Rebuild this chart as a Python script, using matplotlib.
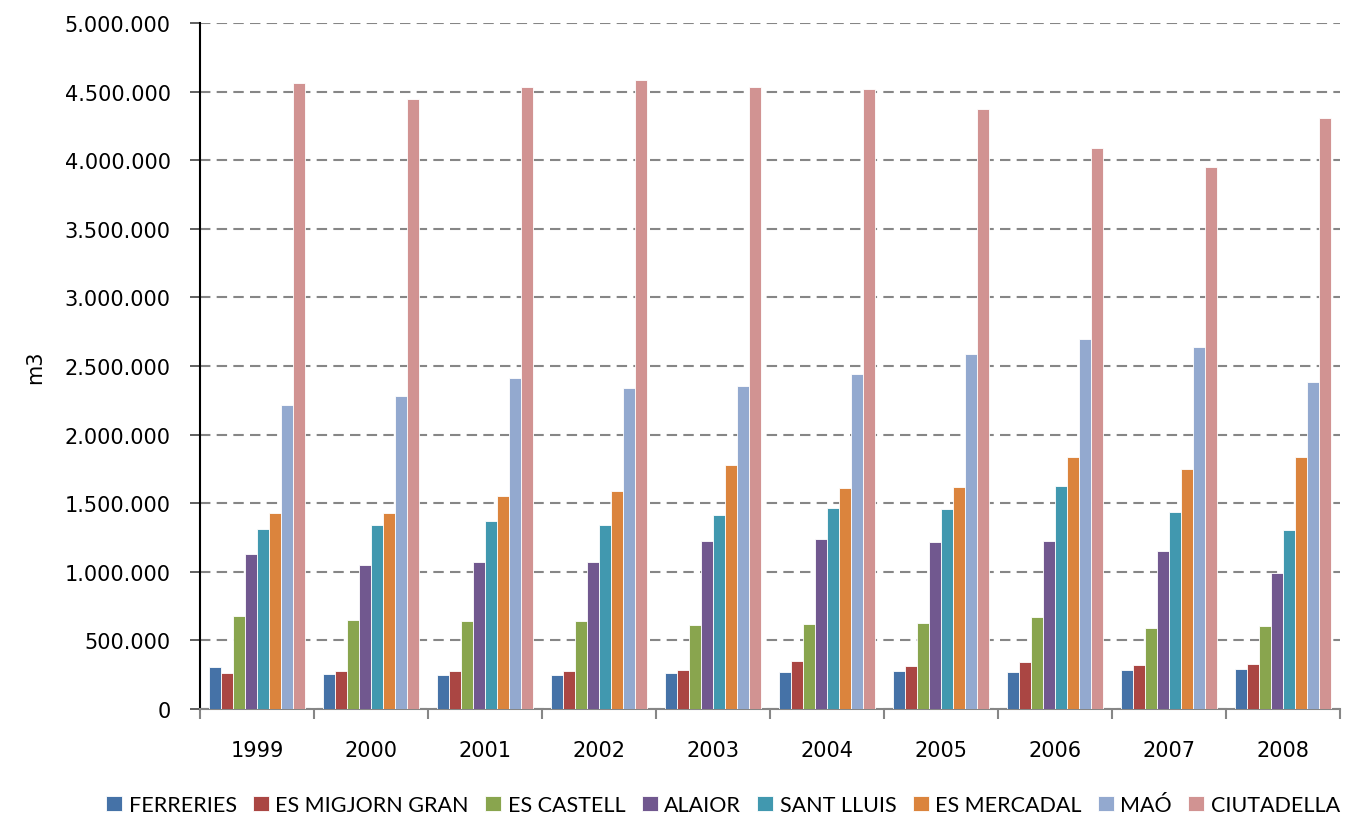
import matplotlib
matplotlib.use("Agg")
import matplotlib.pyplot as plt
import numpy as np
from matplotlib.ticker import FuncFormatter, MultipleLocator

plt.rcParams["font.family"] = ["DejaVu Sans"]

years = ["1999", "2000", "2001", "2002", "2003", "2004", "2005", "2006", "2007", "2008"]
series_names = ["FERRERIES", "ES MIGJORN GRAN", "ES CASTELL", "ALAIOR",
                "SANT LLUIS", "ES MERCADAL", "MAÓ", "CIUTADELLA"]

ferreries  = [306000, 255000, 248000, 248000, 260000, 270000, 275000, 270000, 282000, 289000]
migjorn    = [260000, 275000, 275000, 275000, 282000, 352000, 316000, 340000, 321000, 326000]
castell    = [676000, 649000, 639000, 639000, 610000, 620000, 629000, 670000, 588000, 605000]
alaior     = [1130000, 1050000, 1071000, 1071000, 1227000, 1239000, 1215000, 1222000, 1152000, 989000]
sant_lluis = [1312000, 1343000, 1370000, 1339000, 1416000, 1467000, 1458000, 1628000, 1434000, 1302000]
mercadal   = [1431000, 1431000, 1550000, 1589000, 1776000, 1609000, 1616000, 1834000, 1747000, 1837000]
mao        = [2218000, 2284000, 2415000, 2340000, 2354000, 2444000, 2585000, 2695000, 2638000, 2383000]
ciutadella = [4563000, 4446000, 4534000, 4585000, 4534000, 4519000, 4375000, 4087000, 3950000, 4305000]

series = [ferreries, migjorn, castell, alaior, sant_lluis, mercadal, mao, ciutadella]
colors = ["#4572A7", "#AA4643", "#89A54E", "#71588F", "#4198AF", "#DB843D", "#93A9CF", "#D19392"]

fig = plt.figure(figsize=(13.53, 8.2), dpi=100)
ax = fig.add_axes([200/1353, 110/820, 1140/1353, 686/820])

n = len(series)
group_w = 0.85
bw = group_w / n
x = np.arange(len(years))
for i, (vals, c, name) in enumerate(zip(series, colors, series_names)):
    ax.bar(x - group_w/2 + bw*(i+0.5), vals, width=bw, color=c, edgecolor="white",
           linewidth=0.6, label=name, zorder=3)

ax.set_xlim(-0.5, len(years)-0.5)
ax.set_ylim(0, 5000000)
ax.yaxis.set_major_locator(MultipleLocator(500000))
ax.yaxis.set_major_formatter(FuncFormatter(lambda v, p: "0" if v == 0 else f"{int(v):,}".replace(",", ".")))

ax.grid(axis="y", color="#868686", linestyle=(0, (5, 3)), linewidth=1.5, zorder=0)
ax.set_axisbelow(True)

for s in ["top", "right"]:
    ax.spines[s].set_visible(False)
ax.spines["left"].set_color("black")
ax.spines["left"].set_linewidth(1.5)
ax.spines["bottom"].set_color("#868686")
ax.spines["bottom"].set_linewidth(1.5)

ax.set_xticks(x)
ax.set_xticklabels(years)
ax.set_xticks(np.arange(-0.5, len(years)), minor=True)
ax.tick_params(axis="x", which="major", length=0, pad=22, labelsize=15)
ax.tick_params(axis="x", which="minor", length=7, width=1.5, color="#868686")
ax.tick_params(axis="y", which="major", length=7, width=1.2, color="#444444", labelsize=15, pad=14)

ax.set_ylabel("m3", fontsize=15, labelpad=14)

leg = fig.legend(loc="center", bbox_to_anchor=(723/1353, 14/820), ncol=8, frameon=False,
                 handlelength=0.75, handleheight=0.75, handletextpad=0.3,
                 columnspacing=0.75, prop={"family": "Lato", "size": 15.5})

fig.savefig("out.png", dpi=100)
